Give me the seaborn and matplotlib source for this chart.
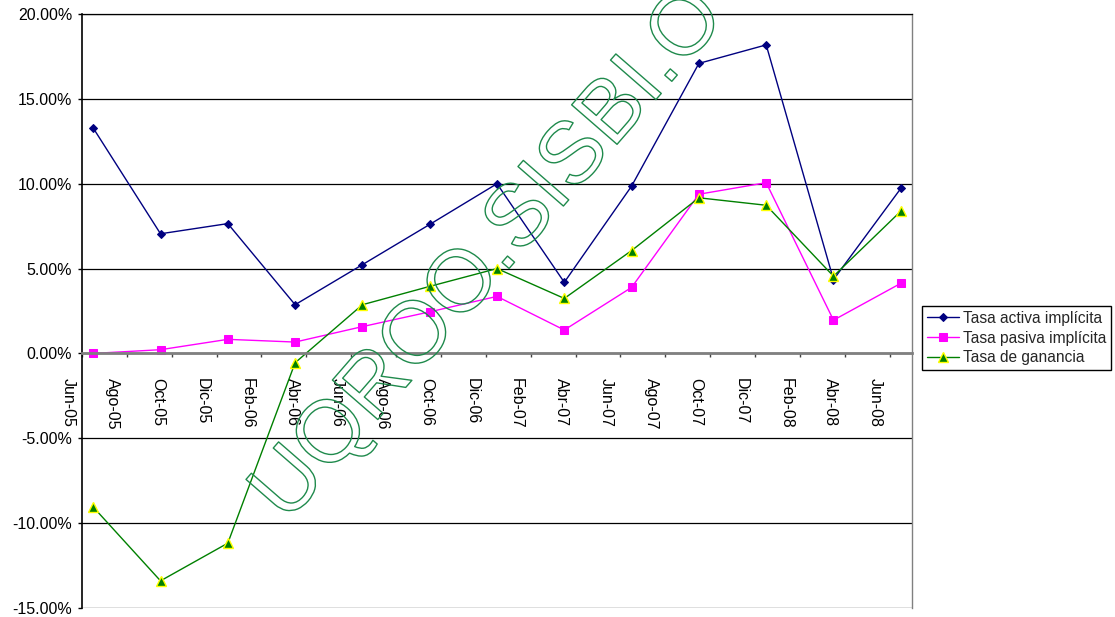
import matplotlib
matplotlib.use('Agg')
import matplotlib.pyplot as plt
import matplotlib.patheffects as pe
import matplotlib.transforms as mtransforms
from matplotlib.ticker import FuncFormatter
import seaborn as sns
import pandas as pd

# quarterly observations (month of each point)
fechas = ['2005-06', '2005-09', '2005-12', '2006-03', '2006-06', '2006-09', '2006-12',
          '2007-03', '2007-06', '2007-09', '2007-12', '2008-03', '2008-06']
tasa_activa = [13.28, 7.05, 7.65, 2.87, 5.23, 7.60, 10.00, 4.19, 9.86, 17.09, 18.18, 4.35, 9.72]
tasa_pasiva = [0.00, 0.22, 0.83, 0.67, 1.58, 2.45, 3.36, 1.38, 3.89, 9.38, 10.06, 1.96, 4.13]
tasa_ganancia = [-9.05, -13.40, -11.18, -0.55, 2.87, 3.95, 5.00, 3.24, 6.06, 9.17, 8.73, 4.55, 8.38]

etiquetas_x = ['Jun-05', 'Ago-05', 'Oct-05', 'Dic-05', 'Feb-06', 'Abr-06', 'Jun-06', 'Ago-06',
               'Oct-06', 'Dic-06', 'Feb-07', 'Abr-07', 'Jun-07', 'Ago-07', 'Oct-07', 'Dic-07',
               'Feb-08', 'Abr-08', 'Jun-08']
y_ticks = [-15, -10, -5, 0, 5, 10, 15, 20]

sns.set_theme(style='white')
plt.rcParams['font.family'] = ['Liberation Sans', 'DejaVu Sans']
plt.rcParams['axes.unicode_minus'] = False

# month index from Jun-05, point at middle of its month (Excel date axis)
per = pd.PeriodIndex(fechas, freq='M')
mes = (per.year - 2005) * 12 + per.month - 6 + 0.5

fig = plt.figure(figsize=(11.15, 6.17), dpi=100)
ax = fig.add_axes([82 / 1115, 1 - 608 / 617, (912 - 82) / 1115, (608 - 14) / 617])

sns.lineplot(x=mes, y=tasa_activa, ax=ax, color='#000080', lw=1, marker='D', markersize=4.3,
             markeredgecolor='#000080', markerfacecolor='#000080', label='Tasa activa implícita')
sns.lineplot(x=mes, y=tasa_pasiva, ax=ax, color='#FF00FF', lw=1, marker='s', markersize=5.8,
             markeredgecolor='#FF00FF', markerfacecolor='#FF00FF', label='Tasa pasiva implícita')
sns.lineplot(x=mes, y=tasa_ganancia, ax=ax, color='#008000', lw=1, marker='^', markersize=6.5,
             markeredgecolor='#FFFF00', markeredgewidth=1, markerfacecolor='#008000',
             label='Tasa de ganancia')

# x axis crosses at 0 (do this before tick labels: it resets the ticks)
ax.spines['bottom'].set_position(('data', 0))
ax.spines['bottom'].set_color('#808080')
ax.spines['bottom'].set_linewidth(2)
ax.spines['left'].set_color('black')
ax.spines['left'].set_linewidth(1.2)
ax.spines['top'].set_color('black')
ax.spines['top'].set_linewidth(0.9)
ax.spines['right'].set_color('#808080')
ax.spines['right'].set_linewidth(1)

ax.set_xlim(0, 37)
ax.set_ylim(-15, 20)
ax.set_yticks(y_ticks)
ax.yaxis.set_major_formatter(FuncFormatter(lambda v, p: f'{v:.2f}%'))
ax.set_xticks(range(0, 37, 2))
ax.set_xticklabels(etiquetas_x, rotation=270, ha='center', va='top')
ax.set_xlabel('')
ax.set_ylabel('')

ax.grid(axis='y', color='black', lw=0.9)
ax.grid(axis='x', visible=False)
ax.tick_params(axis='y', left=True, direction='out', length=3, width=1, color='black',
               pad=4, labelsize=11.5, labelcolor='black')
ax.tick_params(axis='x', bottom=True, direction='out', length=3, width=1, color='#404040',
               pad=15, labelsize=11.5, labelcolor='black')

# Excel puts rotated labels a bit left of their ticks
shift = mtransforms.ScaledTranslation(-0.14, 0, fig.dpi_scale_trans)
for lab in ax.get_xticklabels():
    lab.set_transform(lab.get_transform() + shift)

leg = ax.legend(loc='center left', bbox_to_anchor=(922 / 1115, 1 - 338 / 617),
                bbox_transform=fig.transFigure, fontsize=11.2, frameon=True, fancybox=False,
                edgecolor='black', framealpha=1, handlelength=2.1, handletextpad=0.25,
                labelspacing=0.3, borderpad=0.3, borderaxespad=0)
leg.get_frame().set_linewidth(1)

# outlined watermark
fig.text(287 / 1115, 1 - 524 / 617, 'UQROO.SISBI.O', fontsize=63, rotation=49,
         rotation_mode='anchor', ha='left', va='baseline', color='none',
         family='Liberation Sans',
         path_effects=[pe.Stroke(linewidth=1.0, foreground='#1f8a4c')])

fig.savefig('out.png', dpi=100)
